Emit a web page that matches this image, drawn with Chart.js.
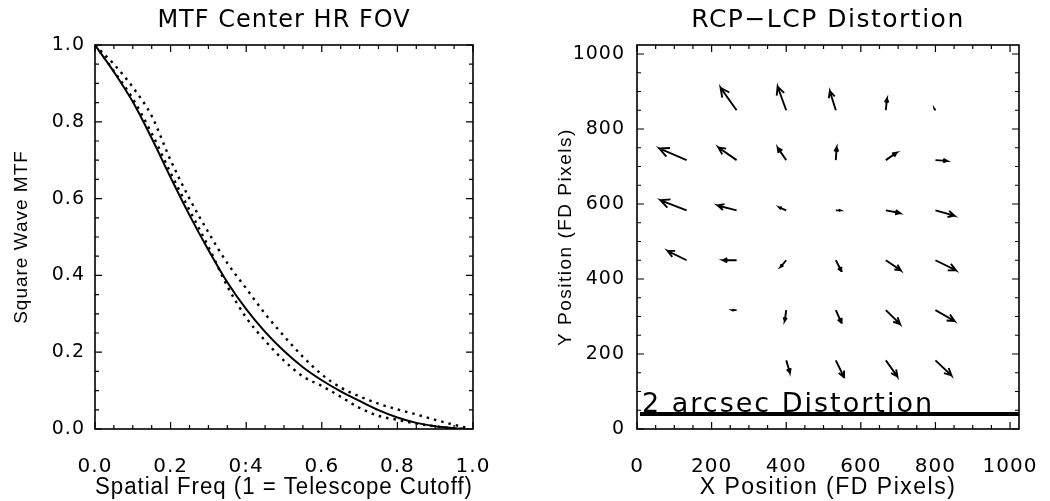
<!DOCTYPE html>
<html><head><meta charset="utf-8">
<script src="https://cdn.jsdelivr.net/npm/chart.js@4.4.1/dist/chart.umd.min.js"></script>
<style>
html,body{margin:0;padding:0;background:#fff;overflow:hidden;width:1050px;height:501px;}
#wrap{position:relative;width:1050px;height:501px;overflow:hidden;background:#fff;}
#c1{position:absolute;left:0;top:0;}
#c2{position:absolute;left:525px;top:0;}
</style></head><body>
<div id="wrap"><canvas id="c1" width="568" height="501"></canvas><canvas id="c2" width="606" height="501"></canvas></div>
<script>
// ---------- Left panel: MTF ----------
const mtfFreq  = [0, 0.05, 0.10, 0.15, 0.20, 0.25, 0.30, 0.35, 0.40, 0.45, 0.50, 0.55, 0.60, 0.65, 0.70, 0.75, 0.80, 0.85, 0.90, 0.95, 0.98];
const mtfSolid = [1.0, 0.930, 0.852, 0.757, 0.655, 0.557, 0.466, 0.382, 0.312, 0.253, 0.203, 0.161, 0.127, 0.098, 0.073, 0.049, 0.030, 0.016, 0.007, 0.002, 0.0];
const mtfDotOuter = [1.0, 0.950, 0.890, 0.815, 0.700, 0.600, 0.512, 0.432, 0.366, 0.300, 0.242, 0.188, 0.142, 0.108, 0.085, 0.066, 0.051, 0.038, 0.024, 0.011, 0.004];
const mtfDotInner = [1.0, 0.932, 0.860, 0.770, 0.667, 0.570, 0.475, 0.372, 0.290, 0.230, 0.178, 0.137, 0.112, 0.084, 0.055, 0.034, 0.024, 0.014, 0.007, 0.002, 0.0];
const mtfXTicks = [0, 0.2, 0.4, 0.6, 0.8, 1.0];
const mtfXTickLabels = ['0.0', '0.2', '0:4', '0.6', '0.8', '1.0'];
const mtfYTicks = [0, 0.2, 0.4, 0.6, 0.8, 1.0];
const mtfYTickLabels = ['0.0', '0.2', '0.4', '0.6', '0.8', '1.0'];

// ---------- Right panel: distortion vectors (tail position and displacement, FD pixels) ----------
const vecX = [267, 400, 533, 667, 800,
              133, 267, 400, 533, 667, 800,
              133, 267, 400, 533, 667, 800,
              133, 267, 400, 533, 667, 800,
                   267, 400, 533, 667, 800,
                        400, 533, 667, 800];
const vecY = [850, 850, 850, 850, 850,
              717, 717, 717, 717, 717, 717,
              583, 583, 583, 583, 583, 583,
              450, 450, 450, 450, 450, 450,
                   317, 317, 317, 317, 317,
                        183, 183, 183, 183];
const vecU = [-43, -23, -16, 3, -3,
              -73, -49, -23, 2, 29, 31,
              -70, -51, -19, 12, 38, 51,
              -51, -37, -15, 15, 40, 55,
                   -11, -4, 15, 38, 51,
                         10, 22, 31, 43];
const vecV = [60, 63, 51, 31, 4,
              31, 34, 33, 34, 20, -2,
              27, 13, 8, 0, -7, -14,
              25, 0, -18, -29, -27, -27,
                  0, -29, -34, -37, -29,
                     -33, -45, -43, -40];
const posTicks = [0, 200, 400, 600, 800, 1000];
const posTickLabels = ['0', '200', '400', '600', '800', '1000'];
const scaleBarX = [1024, 8];
const scaleBarY = [40, 40];
const scaleBarLabel = '2 arcsec Distortion';

// ---------- helpers ----------
function arrowSegments(x, y, u, v) {
  const pts = [];
  const gap = {x: null, y: null};
  for (let i = 0; i < x.length; i++) {
    const hx = x[i] + u[i], hy = y[i] + v[i];
    const len = Math.hypot(u[i], v[i]);
    const ang = Math.atan2(v[i], u[i]);
    const h = 0.36 * len, t = 26 * Math.PI / 180;
    pts.push({x: x[i], y: y[i]}, {x: hx, y: hy},
             {x: hx - h * Math.cos(ang - t), y: hy - h * Math.sin(ang - t)}, gap,
             {x: hx, y: hy},
             {x: hx - h * Math.cos(ang + t), y: hy - h * Math.sin(ang + t)}, gap);
  }
  return pts;
}

const framePlugin = {
  id: 'frame',
  beforeDraw(chart, args, opts) {
    chart.ctx.letterSpacing = opts.titleSpacing || '0px';
  },
  afterDatasetsDraw(chart, args, opts) {
    const ctx = chart.ctx, a = chart.chartArea;
    const xs = chart.scales.x, ys = chart.scales.y;
    ctx.save();
    ctx.strokeStyle = '#000';
    ctx.lineWidth = 1.6;
    ctx.strokeRect(a.left, a.top, a.right - a.left, a.bottom - a.top);
    ctx.lineWidth = 1.2;
    ctx.beginPath();
    const n = Math.round(opts.last / opts.minor);
    for (let k = 0; k <= n; k++) {
      const v = k * opts.minor;
      const isMajor = Math.abs(v / opts.major - Math.round(v / opts.major)) < 1e-6;
      const L = isMajor ? 7 : 4;
      const px = xs.getPixelForValue(v), py = ys.getPixelForValue(v);
      ctx.moveTo(px, a.bottom); ctx.lineTo(px, a.bottom - L);
      ctx.moveTo(px, a.top); ctx.lineTo(px, a.top + L);
      ctx.moveTo(a.left, py); ctx.lineTo(a.left + L, py);
      ctx.moveTo(a.right, py); ctx.lineTo(a.right - L, py);
    }
    ctx.stroke();
    ctx.restore();
    ctx.letterSpacing = opts.labelSpacing || '0px';
  }
};

const barLabelPlugin = {
  id: 'barLabel',
  afterDatasetsDraw(chart, args, opts) {
    if (!opts.text) return;
    const ctx = chart.ctx;
    ctx.save();
    ctx.font = opts.font;
    ctx.letterSpacing = opts.spacing;
    ctx.fillStyle = '#000';
    ctx.textBaseline = 'alphabetic';
    ctx.textAlign = 'left';
    ctx.fillText(opts.text, chart.scales.x.getPixelForValue(opts.x) + 2, chart.scales.y.getPixelForValue(opts.y) - 2);
    ctx.restore();
  }
};

function axisCommon(tickVals, tickLabels, pad, fontSize) {
  return {
    afterBuildTicks: s => { s.ticks = tickVals.map(v => ({value: v})); },
    ticks: {
      callback: (v, i) => tickLabels[i],
      font: {family: 'DejaVu Sans', size: fontSize},
      color: '#000', padding: pad, maxRotation: 0, minRotation: 0, autoSkip: false, z: 1
    },
    grid: {display: false, drawTicks: false},
    border: {display: false}
  };
}

function dummyRight(w, min, max) {
  return {
    type: 'linear', position: 'right', min: min, max: max,
    ticks: {display: false}, grid: {display: false, drawTicks: false}, border: {display: false},
    afterFit: s => { s.width = w; }
  };
}

Chart.defaults.color = '#000';

// ---------- Left chart ----------
new Chart(document.getElementById('c1'), {
  type: 'line',
  data: {
    datasets: [
      {data: mtfFreq.map((f, i) => ({x: f, y: mtfSolid[i]})), borderColor: '#000', borderWidth: 2, pointRadius: 0, cubicInterpolationMode: 'monotone', fill: false},
      {data: mtfFreq.map((f, i) => ({x: f, y: mtfDotOuter[i]})), borderColor: '#000', borderWidth: 2.4, borderDash: [2.5, 5], pointRadius: 0, cubicInterpolationMode: 'monotone', fill: false},
      {data: mtfFreq.map((f, i) => ({x: f, y: mtfDotInner[i]})), borderColor: '#000', borderWidth: 2.4, borderDash: [2.5, 5], pointRadius: 0, cubicInterpolationMode: 'monotone', fill: false}
    ]
  },
  options: {
    responsive: false, animation: false, events: [],
    layout: {padding: 0},
    plugins: {
      legend: {display: false}, tooltip: {enabled: false},
      title: {display: true, text: 'MTF Center HR FOV', color: '#000',
              font: {family: 'DejaVu Sans', size: 24, weight: 'normal'}, padding: {top: 6, bottom: 10.2}},
      frame: {titleSpacing: '1px', labelSpacing: '1px', minor: 0.05, major: 0.2, last: 1.0}
    },
    scales: {
      x: Object.assign({type: 'linear', position: 'bottom', min: 0, max: 1,
            afterFit: s => { s.height = 72; },
            title: {display: true, text: 'Spatial Freq (1 = Telescope Cutoff)', color: '#000',
                    font: {family: 'Liberation Sans', size: 23}, padding: {top: 0, bottom: 0}}},
          axisCommon(mtfXTicks, mtfXTickLabels, 26, 20)),
      y: Object.assign({type: 'linear', position: 'left', min: 0, max: 1,
            afterFit: s => { s.width = 95; },
            title: {display: true, text: 'Square Wave MTF', color: '#000',
                    font: {family: 'Liberation Sans', size: 19}, padding: {top: 10, bottom: 0}}},
          axisCommon(mtfYTicks, mtfYTickLabels, 10, 19)),
      y2: dummyRight(95, 0, 1)
    }
  },
  plugins: [framePlugin]
});

// ---------- Right chart ----------
new Chart(document.getElementById('c2'), {
  type: 'line',
  data: {
    datasets: [
      {data: arrowSegments(vecX, vecY, vecU, vecV), borderColor: '#000', borderWidth: 1.9, pointRadius: 0, tension: 0, spanGaps: false, fill: false},
      {data: scaleBarX.map((x, i) => ({x: x, y: scaleBarY[i]})), borderColor: '#000', borderWidth: 4, pointRadius: 0, tension: 0, fill: false}
    ]
  },
  options: {
    responsive: false, animation: false, events: [],
    layout: {padding: 0},
    plugins: {
      legend: {display: false}, tooltip: {enabled: false},
      title: {display: true, text: 'RCP\u2212LCP Distortion', color: '#000',
              font: {family: 'DejaVu Sans', size: 25, weight: 'normal'}, padding: {top: 5, bottom: 10}},
      frame: {titleSpacing: '1.5px', labelSpacing: '1px', minor: 50, major: 200, last: 1000},
      barLabel: {text: scaleBarLabel, x: scaleBarX[1], y: scaleBarY[1], font: '27px "DejaVu Sans"', spacing: '2px'}
    },
    scales: {
      x: Object.assign({type: 'linear', position: 'bottom', min: 0, max: 1024,
            afterFit: s => { s.height = 72; },
            title: {display: true, text: 'X Position (FD Pixels)', color: '#000',
                    font: {family: 'Liberation Sans', size: 23}, padding: {top: 0, bottom: 0}}},
          axisCommon(posTicks, posTickLabels, 26, 20)),
      y: Object.assign({type: 'linear', position: 'left', min: 0, max: 1024,
            afterFit: s => { s.width = 112; },
            title: {display: true, text: 'Y Position (FD Pixels)', color: '#000',
                    font: {family: 'Liberation Sans', size: 19}, padding: {top: 29, bottom: 0}}},
          axisCommon(posTicks, posTickLabels, 12, 19)),
      y2: dummyRight(112, 0, 1024)
    }
  },
  plugins: [framePlugin, barLabelPlugin]
});
</script>
</body></html>
